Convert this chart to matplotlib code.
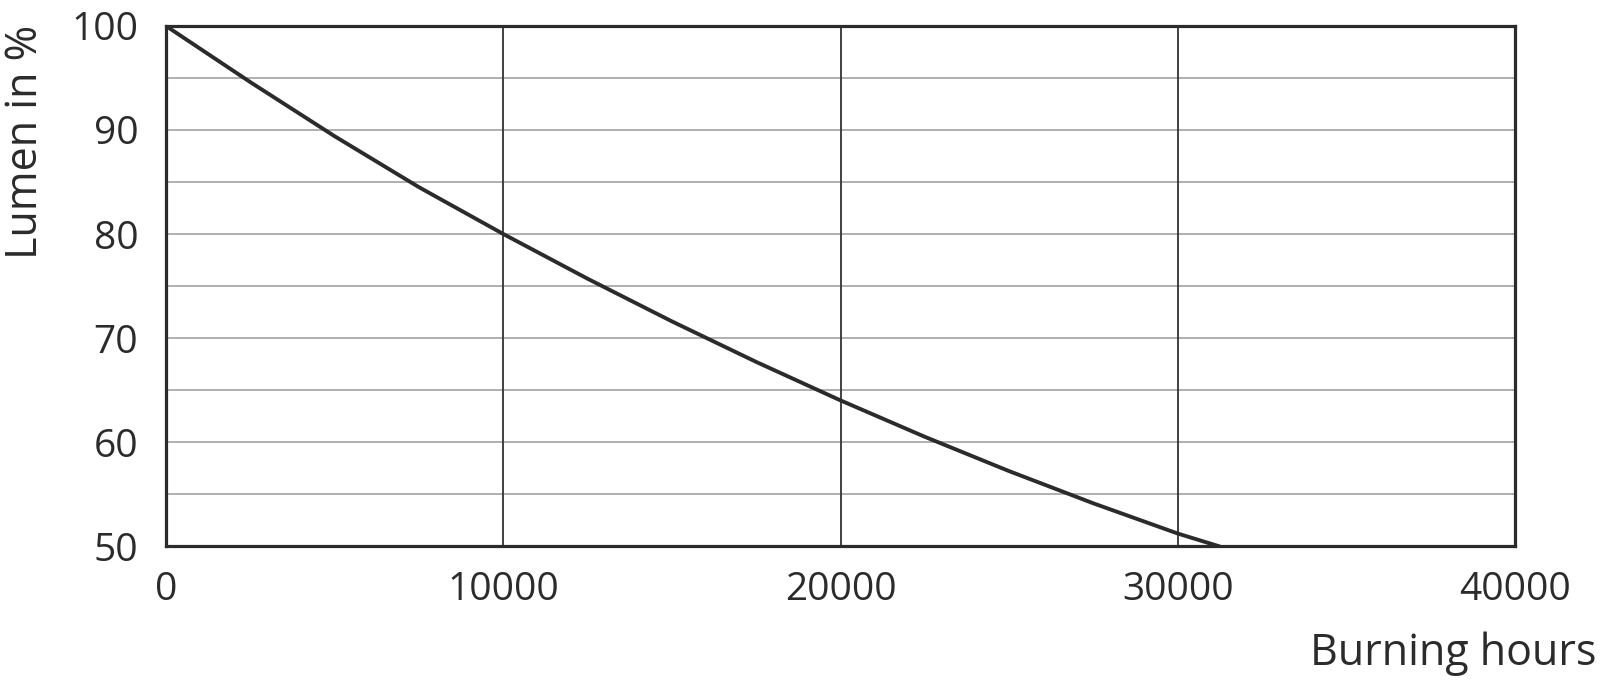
import matplotlib.pyplot as plt
import numpy as np

plt.rcParams['font.family'] = ['Open Sans', 'DejaVu Sans']

# Data
hours = [0, 2500, 5000, 7500, 10000, 12500, 15000, 17500, 20000,
         22500, 25000, 27500, 30000, 31200]
lumen = [100, 94.6, 89.4, 84.5, 80, 75.7, 71.6, 67.7, 64,
         60.5, 57.2, 54.1, 51.2, 50]
x_ticks = [0, 10000, 20000, 30000, 40000]
y_ticks = [50, 60, 70, 80, 90, 100]
y_minor = [55, 65, 75, 85, 95]

fig = plt.figure(figsize=(16, 6.8), dpi=100)
ax = fig.add_axes([0.10375, 0.197, 0.8432, 0.7648])

# grid lines
for y in y_ticks[1:-1] + y_minor:
    ax.axhline(y, color='#9a9a9a', lw=1.1, zorder=1)
for x in x_ticks[1:-1]:
    ax.axvline(x, color='#333333', lw=1.3, zorder=1)

ax.plot(hours, lumen, color='#2b2b2b', lw=2.8, zorder=3)

ax.set_xlim(0, 40000)
ax.set_ylim(50, 100)
ax.set_xticks(x_ticks)
ax.set_yticks(y_ticks)
ax.set_xticklabels([str(x) for x in x_ticks])
ax.set_yticklabels([str(y) for y in y_ticks])
ax.tick_params(axis='both', length=0, labelsize=28, colors='#2b2b2b')
ax.tick_params(axis='y', pad=20)
ax.tick_params(axis='x', pad=18)

for s in ax.spines.values():
    s.set_linewidth(2.3)
    s.set_color('#2b2b2b')
    s.set_zorder(4)

fig.text(0.016, 0.963, 'Lumen in %', rotation=90, ha='center', va='top',
         fontsize=31, color='#2b2b2b')
fig.text(0.998, 0.006, 'Burning hours', ha='right', va='bottom',
         fontsize=31, color='#2b2b2b')

fig.savefig('out.png', dpi=100, facecolor='white')
